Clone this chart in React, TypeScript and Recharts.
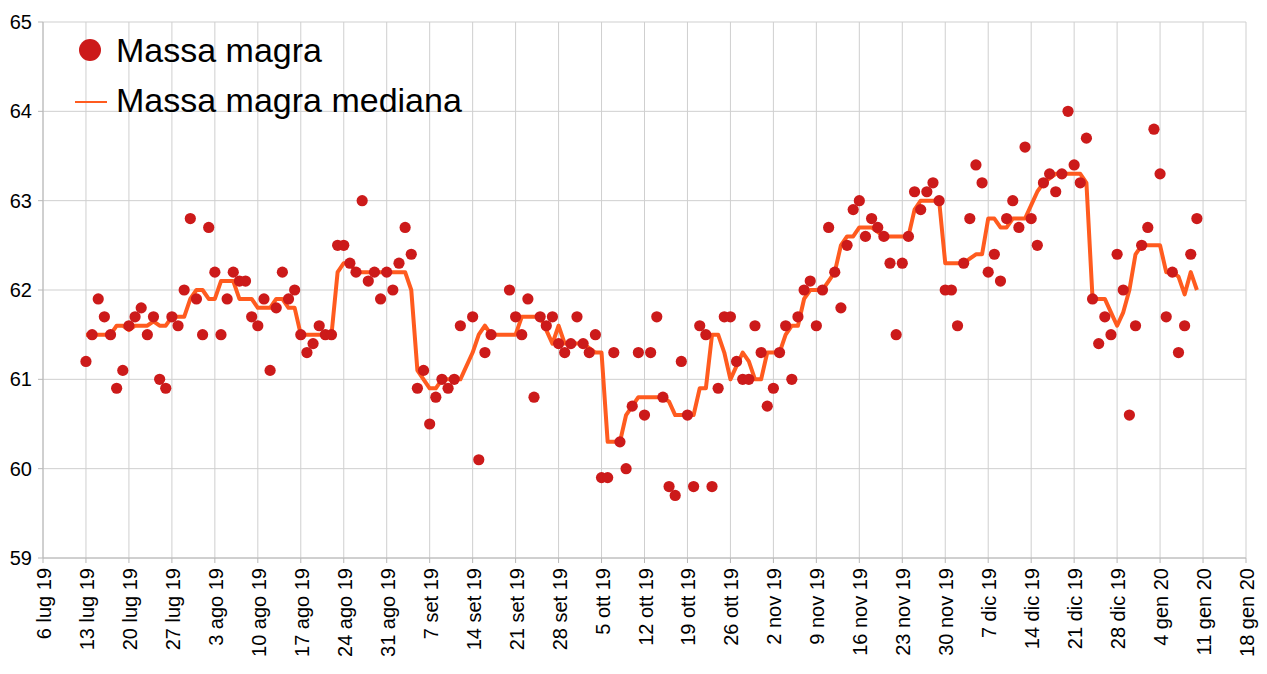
import React from 'react';
import { ComposedChart, Scatter, Line, XAxis, YAxis, CartesianGrid, Legend } from 'recharts';

// days since 6 lug 2019
const days = [
  7, 8, 9, 10, 11, 12, 13,
  14, 15, 16, 17, 18, 19, 20,
  21, 22, 23, 24, 25, 26, 27,
  28, 29, 30, 31, 32, 33, 34,
  35, 36, 37, 38, 39, 40, 41,
  42, 43, 44, 45, 46, 47, 48,
  49, 50, 51, 52, 53, 54, 55,
  56, 57, 58, 59, 60, 61, 62,
  63, 64, 65, 66, 67, 68,
  70, 71, 72, 73,
  76, 77, 78, 79, 80, 81, 82, 83,
  84, 85, 86, 87, 88, 89, 90,
  91, 92, 93, 94, 95, 96, 97,
  98, 99, 100, 101, 102, 103, 104,
  105, 106, 107, 108, 109, 110, 111,
  112, 113, 114, 115, 116, 117, 118,
  119, 120, 121, 122, 123, 124, 125,
  126, 127, 128, 129, 130, 131, 132,
  133, 134, 135, 136, 137, 138, 139,
  140, 141, 142, 143, 144, 145, 146,
  147, 148, 149, 150, 151, 152, 153,
  154, 155, 156, 157, 158, 159, 160,
  161, 162, 163, 164, 165, 166, 167,
  168, 169, 170, 171, 172, 173, 174,
  175, 176, 177, 178, 179, 180, 181,
  182, 183, 184, 185, 186, 187, 188,
];

const massaMagra = [
  61.2, 61.5, 61.9, 61.7, 61.5, 60.9, 61.1,
  61.6, 61.7, 61.8, 61.5, 61.7, 61.0, 60.9,
  61.7, 61.6, 62.0, 62.8, 61.9, 61.5, 62.7,
  62.2, 61.5, 61.9, 62.2, 62.1, 62.1, 61.7,
  61.6, 61.9, 61.1, 61.8, 62.2, 61.9, 62.0,
  61.5, 61.3, 61.4, 61.6, 61.5, 61.5, 62.5,
  62.5, 62.3, 62.2, 63.0, 62.1, 62.2, 61.9,
  62.2, 62.0, 62.3, 62.7, 62.4, 60.9, 61.1,
  60.5, 60.8, 61.0, 60.9, 61.0, 61.6,
  61.7, 60.1, 61.3, 61.5,
  62.0, 61.7, 61.5, 61.9, 60.8, 61.7, 61.6, 61.7,
  61.4, 61.3, 61.4, 61.7, 61.4, 61.3, 61.5,
  59.9, 59.9, 61.3, 60.3, 60.0, 60.7, 61.3,
  60.6, 61.3, 61.7, 60.8, 59.8, 59.7, 61.2,
  60.6, 59.8, 61.6, 61.5, 59.8, 60.9, 61.7,
  61.7, 61.2, 61.0, 61.0, 61.6, 61.3, 60.7,
  60.9, 61.3, 61.6, 61.0, 61.7, 62.0, 62.1,
  61.6, 62.0, 62.7, 62.2, 61.8, 62.5, 62.9,
  63.0, 62.6, 62.8, 62.7, 62.6, 62.3, 61.5,
  62.3, 62.6, 63.1, 62.9, 63.1, 63.2, 63.0,
  62.0, 62.0, 61.6, 62.3, 62.8, 63.4, 63.2,
  62.2, 62.4, 62.1, 62.8, 63.0, 62.7, 63.6,
  62.8, 62.5, 63.2, 63.3, 63.1, 63.3, 64.0,
  63.4, 63.2, 63.7, 61.9, 61.4, 61.7, 61.5,
  62.4, 62.0, 60.6, 61.6, 62.5, 62.7, 63.8,
  63.3, 61.7, 62.2, 61.3, 61.6, 62.4, 62.8,
];

const massaMagraMediana = [
  61.5, 61.5, 61.5, 61.5, 61.5, 61.6, 61.6,
  61.55, 61.6, 61.6, 61.6, 61.65, 61.6, 61.6,
  61.7, 61.7, 61.7, 61.9, 62.0, 62.0, 61.9,
  61.9, 62.1, 62.1, 62.1, 61.9, 61.9, 61.9,
  61.8, 61.8, 61.8, 61.9, 61.9, 61.8, 61.8,
  61.5, 61.5, 61.5, 61.5, 61.5, 61.5, 62.2,
  62.3, 62.3, 62.2, 62.2, 62.2, 62.2, 62.2,
  62.2, 62.2, 62.2, 62.2, 62.0, 61.1, 61.0,
  60.9, 60.9, 61.0, 61.0, 61.0, 61.0,
  61.3, 61.5, 61.6, 61.5,
  61.5, 61.5, 61.7, 61.7, 61.7, 61.7, 61.55, 61.4,
  61.6, 61.4, 61.4, 61.4, 61.4, 61.35, 61.3,
  61.3, 60.3, 60.3, 60.3, 60.6, 60.7, 60.8,
  60.8, 60.8, 60.8, 60.8, 60.75, 60.6, 60.6,
  60.6, 60.6, 60.9, 60.9, 61.5, 61.5, 61.3,
  61.0, 61.15, 61.3, 61.2, 61.0, 61.0, 61.3,
  61.3, 61.3, 61.5, 61.6, 61.6, 61.9, 62.0,
  62.0, 62.0, 62.1, 62.2, 62.5, 62.6, 62.6,
  62.7, 62.7, 62.7, 62.65, 62.6, 62.6, 62.6,
  62.6, 62.6, 62.9, 63.0, 63.0, 63.0, 63.0,
  62.3, 62.3, 62.3, 62.3, 62.35, 62.4, 62.4,
  62.8, 62.8, 62.7, 62.7, 62.8, 62.8, 62.8,
  62.95, 63.1, 63.2, 63.25, 63.3, 63.3, 63.3,
  63.3, 63.3, 63.2, 61.9, 61.9, 61.9, 61.75,
  61.6, 61.75, 62.0, 62.4, 62.5, 62.5, 62.5,
  62.5, 62.2, 62.2, 62.15, 61.95, 62.2, 62.0,
];

const xTicks = [0, 7, 14, 21, 28, 35, 42, 49, 56, 63, 70, 77, 84, 91, 98, 105, 112, 119, 126, 133, 140, 147, 154, 161, 168, 175, 182, 189, 196];
const xTickLabels = [
  '6 lug 19', '13 lug 19', '20 lug 19', '27 lug 19', '3 ago 19', '10 ago 19', '17 ago 19',
  '24 ago 19', '31 ago 19', '7 set 19', '14 set 19', '21 set 19', '28 set 19', '5 ott 19',
  '12 ott 19', '19 ott 19', '26 ott 19', '2 nov 19', '9 nov 19', '16 nov 19', '23 nov 19',
  '30 nov 19', '7 dic 19', '14 dic 19', '21 dic 19', '28 dic 19', '4 gen 20', '11 gen 20', '18 gen 20',
];
const yTicks = [59, 60, 61, 62, 63, 64, 65];

const seriesNames = ['Massa magra', 'Massa magra mediana'];

const DOT_COLOR = '#cc1a1a';
const LINE_COLOR = '#ff5b1f';
const GRID_COLOR = '#cfcfcf';
const FONT = '"Liberation Sans", Arial, sans-serif';

const pointData = days.map((d, i) => ({ day: d, v: massaMagra[i] }));
const medianData = days.map((d, i) => ({ day: d, v: massaMagraMediana[i] }));

const XTick = (props: any) => {
  const { x, payload } = props;
  const idx = xTicks.indexOf(payload.value);
  const label = idx >= 0 ? xTickLabels[idx] : '';
  const bx = x + 8;
  const by = 568;
  return (
    <text
      x={bx}
      y={by}
      transform={`rotate(-90, ${bx}, ${by})`}
      textAnchor="end"
      fontSize={20}
      fontFamily={FONT}
      fill="#000"
    >
      {label}
    </text>
  );
};

const LegendContent = () => (
  <svg width={520} height={130} style={{ display: 'block' }}>
    <circle cx={90} cy={50} r={11} fill={DOT_COLOR} />
    <text x={116} y={62} fontSize={34} fontFamily={FONT} fill="#000">
      {seriesNames[0]}
    </text>
    <line x1={75} x2={107} y1={102} y2={102} stroke={LINE_COLOR} strokeWidth={2} />
    <text x={116} y={112} fontSize={34} fontFamily={FONT} fill="#000">
      {seriesNames[1]}
    </text>
  </svg>
);

const Dot = (props: any) => {
  const { cx, cy } = props;
  if (cx == null || cy == null) return null;
  return <circle cx={cx} cy={cy} r={5.6} fill={DOT_COLOR} />;
};

export default function App() {
  return (
    <div style={{ position: 'absolute', left: 0, top: 0, width: 1267, height: 674, background: '#fff' }}>
      <ComposedChart
        width={1267}
        height={674}
        margin={{ top: 22, right: 21, left: 3, bottom: 3 }}
      >
        <CartesianGrid stroke={GRID_COLOR} strokeWidth={1} />
        <XAxis
          dataKey="day"
          type="number"
          domain={[0, 196]}
          ticks={xTicks}
          interval={0}
          height={113}
          tick={<XTick />}
          tickSize={5}
          axisLine={{ stroke: '#b8b8b8' }}
          tickLine={{ stroke: '#b8b8b8' }}
          allowDataOverflow
        />
        <YAxis
          type="number"
          domain={[59, 65]}
          ticks={yTicks}
          interval={0}
          width={40}
          tickSize={5}
          tickMargin={6}
          axisLine={{ stroke: '#b8b8b8' }}
          tickLine={{ stroke: '#b8b8b8' }}
          tick={{ fontSize: 20, fill: '#000', fontFamily: FONT }}
        />
        <Legend
          layout="horizontal"
          verticalAlign="middle"
          align="center"
          content={<LegendContent />}
          wrapperStyle={{ position: 'absolute', left: 0, top: 0, width: 520, height: 130 }}
        />
        <Scatter
          name={seriesNames[0]}
          data={pointData}
          dataKey="v"
          shape={<Dot />}
          isAnimationActive={false}
        />
        <Line
          name={seriesNames[1]}
          data={medianData}
          dataKey="v"
          type="linear"
          stroke={LINE_COLOR}
          strokeWidth={4}
          strokeLinejoin="round"
          dot={false}
          activeDot={false}
          isAnimationActive={false}
        />
      </ComposedChart>
    </div>
  );
}
